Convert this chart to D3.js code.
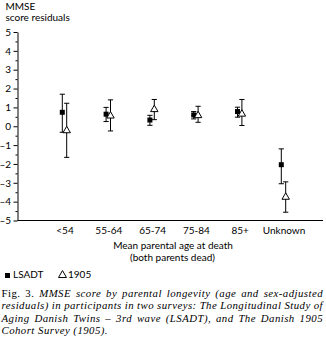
<!DOCTYPE html>
<html><head><meta charset="utf-8">
<script src="https://cdn.jsdelivr.net/npm/d3@7"></script>
<style>body{margin:0;background:#fff}svg{display:block}</style>
</head><body>
<svg id="c" width="326" height="344"></svg>
<script>
const categories = ["<54","55-64","65-74","75-84","85+","Unknown"];
const lsadtMean = [0.74, 0.64, 0.33, 0.60, 0.78, -2.04];
const lsadtLow  = [-0.32, 0.25, 0.05, 0.39, 0.48, -3.05];
const lsadtHigh = [1.70, 1.00, 0.58, 0.78, 1.01, -1.20];
const c1905Mean = [-0.23, 0.55, 0.89, 0.57, 0.65, -3.76];
const c1905Low  = [-1.65, -0.25, 0.35, 0.21, 0.04, -4.56];
const c1905High = [1.22, 1.40, 1.42, 1.06, 1.42, -2.95];
const yTicks = [5,4,3,2,1,0,-1,-2,-3,-4,-5];
const yMinorTicks = [4.5,3.5,2.5,1.5,0.5,-0.5,-1.5,-2.5,-3.5,-4.5];
const seriesNames = ["LSADT","1905"];
const yTitle = ["MMSE","score residuals"];
const xTitle = ["Mean parental age at death","(both parents dead)"];
const captionLines = [
  [{t:"Fig. 3.",i:false},{t:"MMSE score by parental longevity (age and sex-adjusted",i:true}],
  [{t:"residuals) in participants in two surveys: The Longitudinal Study of",i:true}],
  [{t:"Aging Danish Twins – 3rd wave (LSADT), and The Danish 1905",i:true}],
  [{t:"Cohort Survey (1905).",i:true}]
];

const SANS = "Lato, 'Open Sans', sans-serif";
const SERIF = "'Liberation Serif', 'DejaVu Serif', serif";
const FS = 10;
const svg = d3.select("#c");
svg.append("rect").attr("width",326).attr("height",344).attr("fill","#fff");

const x = d3.scalePoint().domain(categories).range([64.5, 283.5]);
const y = d3.scaleLinear().domain([-5,5]).range([220.5, 32]);
const axX = 17.5;

// y axis
const yAxis = svg.append("g").attr("transform",`translate(${axX},0)`)
  .call(d3.axisLeft(y).tickValues(yTicks).tickSize(4).tickSizeOuter(0).tickPadding(2.5)
    .tickFormat(d => d < 0 ? "\u2013" + Math.abs(d) : String(d)));
yAxis.selectAll("text").attr("font-family",SANS).attr("font-size",FS).attr("fill","#000");
yAxis.selectAll("line,path").attr("stroke","#000");
const yMinor = svg.append("g").attr("transform",`translate(${axX},0)`)
  .call(d3.axisLeft(y).tickValues(yMinorTicks).tickSize(2).tickFormat(""));
yMinor.select(".domain").remove();
yMinor.selectAll("line").attr("stroke","#000");

// x axis
svg.append("line").attr("x1",axX).attr("x2",323).attr("y1",y(-5)).attr("y2",y(-5))
  .attr("stroke","#000");
const xAxis = svg.append("g").attr("transform",`translate(0,${y(-5)})`)
  .call(d3.axisBottom(x).tickSize(0).tickPadding(6.5));
xAxis.select(".domain").remove();
xAxis.selectAll("text").attr("font-family",SANS).attr("font-size",FS).attr("fill","#000");

// titles
const yt = svg.append("g").attr("font-family",SANS).attr("font-size",FS).attr("fill","#000");
yt.append("text").attr("x",5.5).attr("y",10).text(yTitle[0]);
yt.append("text").attr("x",5.5).attr("y",20.5).text(yTitle[1]);
const xt = svg.append("g").attr("font-family",SANS).attr("font-size",FS).attr("fill","#000").attr("text-anchor","middle");
xt.append("text").attr("x",173).attr("y",249).text(xTitle[0]);
xt.append("text").attr("x",172.5).attr("y",261).text(xTitle[1]);

// data
const off = 2.2, cap = 2.6;
const series = [
  {name:seriesNames[0], mean:lsadtMean, lo:lsadtLow, hi:lsadtHigh, dx:-off, sym:d3.symbolSquare, size:25, fill:"#000"},
  {name:seriesNames[1], mean:c1905Mean, lo:c1905Low, hi:c1905High, dx:off, sym:d3.symbolTriangle, size:24, fill:"#fff"}
];
series.forEach(s => {
  const g = svg.append("g");
  const rows = categories.map((c,i) => ({c, m:s.mean[i], lo:s.lo[i], hi:s.hi[i]}));
  const eb = g.selectAll("g.eb").data(rows).join("g").attr("stroke","#000").attr("stroke-width",1);
  eb.append("line").attr("x1",d=>x(d.c)+s.dx).attr("x2",d=>x(d.c)+s.dx).attr("y1",d=>y(d.lo)).attr("y2",d=>y(d.hi));
  eb.append("line").attr("x1",d=>x(d.c)+s.dx-cap).attr("x2",d=>x(d.c)+s.dx+cap).attr("y1",d=>y(d.lo)).attr("y2",d=>y(d.lo));
  eb.append("line").attr("x1",d=>x(d.c)+s.dx-cap).attr("x2",d=>x(d.c)+s.dx+cap).attr("y1",d=>y(d.hi)).attr("y2",d=>y(d.hi));
  s.rows = rows; s.g = g;
});
series.forEach(s => {
  s.g.selectAll("path.mk").data(s.rows).join("path").attr("class","mk")
    .attr("d", d3.symbol(s.sym, s.size))
    .attr("transform", d => `translate(${x(d.c)+s.dx},${y(d.m)})`)
    .attr("fill", s.fill).attr("stroke","#000").attr("stroke-width", s.fill==="#000"?0:1);
});

// legend
const lg = svg.append("g").attr("font-family",SANS).attr("font-size",FS).attr("fill","#000");
lg.append("path").attr("d",d3.symbol(d3.symbolSquare,25)).attr("transform","translate(7.5,275.5)").attr("fill","#000");
lg.append("text").attr("x",13).attr("y",278).text(seriesNames[0]);
lg.append("path").attr("d",d3.symbol(d3.symbolTriangle,28)).attr("transform","translate(62.5,275.2)").attr("fill","#fff").attr("stroke","#000");
lg.append("text").attr("x",68).attr("y",278).text(seriesNames[1]);

// caption, justified
const cap0 = 1.5, cap1 = 323, capSize = 10.8, capY = [297.3, 309.4, 321.5, 333.6];
const cg = svg.append("g").attr("font-family",SERIF).attr("font-size",capSize)
  .attr("letter-spacing","0.45px").attr("fill","#000");
captionLines.forEach((segs, li) => {
  const words = [];
  segs.forEach(sg => sg.t.split(" ").forEach(w => words.push({w, i:sg.i})));
  const t = cg.append("text").attr("y", capY[li]);
  const spans = words.map(wd => t.append("tspan").attr("font-style", wd.i?"italic":"normal").text(wd.w));
  const widths = spans.map(sp => sp.node().getComputedTextLength());
  const total = d3.sum(widths);
  const justify = li < captionLines.length - 1;
  const spaceW = capSize * 0.3;
  const gap = justify ? (cap1 - cap0 - total) / (words.length - 1) : spaceW;
  let cx = cap0;
  spans.forEach((sp, k) => { sp.attr("x", cx); cx += widths[k] + gap; });
});
</script>
</body></html>
